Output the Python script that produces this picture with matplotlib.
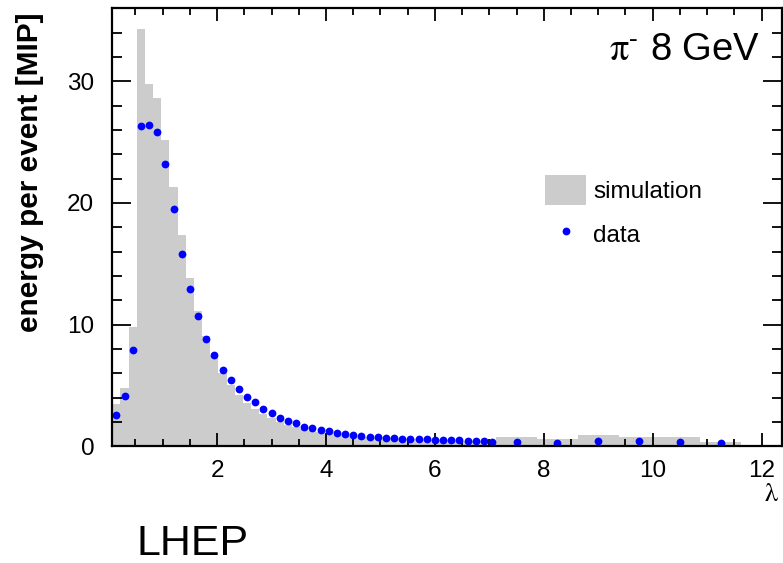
"""
Longitudinal shower profile: energy per event vs depth in lambda
"""

import matplotlib

matplotlib.use("Agg")
import matplotlib.pyplot as plt
from matplotlib.ticker import MultipleLocator

plt.rcParams["font.family"] = ["Liberation Sans", "DejaVu Sans"]
plt.rcParams["mathtext.fontset"] = "stix"

# Bin edges in lambda: fine bins up to 7.125, then wide bins
bin_edges = [
    0.075, 0.225, 0.375, 0.525, 0.675, 0.825, 0.975, 1.125, 1.275, 1.425,
    1.575, 1.725, 1.875, 2.025, 2.175, 2.325, 2.475, 2.625, 2.775, 2.925,
    3.075, 3.225, 3.375, 3.525, 3.675, 3.825, 3.975, 4.125, 4.275, 4.425,
    4.575, 4.725, 4.875, 5.025, 5.175, 5.325, 5.475, 5.625, 5.775, 5.925,
    6.075, 6.225, 6.375, 6.525, 6.675, 6.825, 6.975, 7.125,
    7.875, 8.625, 9.375, 10.125, 10.875, 11.625, 12.375,
]

# Simulated energy per bin [MIP]
sim_energy = [
    3.5, 4.75, 9.8, 34.3, 29.8, 28.6, 25.2, 21.3, 17.4, 13.85,
    11.1, 9.1, 7.4, 6.0, 5.0, 4.2, 3.55, 3.05, 2.65, 2.3,
    2.0, 1.78, 1.58, 1.40, 1.26, 1.14, 1.04, 0.96, 0.90, 0.85,
    0.80, 0.76, 0.72, 0.68, 0.65, 0.62, 0.59, 0.56, 0.54, 0.52,
    0.50, 0.48, 0.46, 0.45, 0.44, 0.44, 0.45,
    0.74, 0.57, 0.93, 0.80, 0.80, 0.38, 0.10,
]

# Measured energy per bin [MIP]
data_energy = [
    2.59, 4.12, 7.89, 26.3, 26.4, 25.8, 23.2, 19.5, 15.8, 12.9,
    10.7, 8.85, 7.48, 6.25, 5.43, 4.70, 4.07, 3.60, 3.06, 2.70,
    2.30, 2.07, 1.91, 1.61, 1.47, 1.36, 1.23, 1.09, 1.01, 0.90,
    0.84, 0.78, 0.75, 0.68, 0.66, 0.63, 0.60, 0.57, 0.56, 0.54,
    0.52, 0.51, 0.49, 0.46, 0.43, 0.40, 0.38,
    0.38, 0.30, 0.43, 0.46, 0.38, 0.25,
]

bin_centers = [(lo + hi) / 2 for lo, hi in zip(bin_edges[:-1], bin_edges[1:])]

fig = plt.figure(figsize=(7.83, 5.63), dpi=100)
ax = fig.add_axes([0.1434, 0.2073, 0.8553, 0.778])

sim = ax.stairs(sim_energy, bin_edges, fill=True, color="#cccccc", linewidth=0,
                label="simulation")
dat, = ax.plot(bin_centers[: len(data_energy)], data_energy, "o", color="#0000ff",
               markersize=5.6, markeredgewidth=0, label="data")

ax.set_xlim(0.075, 12.375)
ax.set_ylim(0, 36)
ax.xaxis.set_major_locator(MultipleLocator(2))
ax.xaxis.set_minor_locator(MultipleLocator(0.5))
ax.yaxis.set_major_locator(MultipleLocator(10))
ax.yaxis.set_minor_locator(MultipleLocator(2))

for side in ax.spines.values():
    side.set_linewidth(1.6)
ax.tick_params(which="both", direction="in", top=True, right=True, width=1.3,
               labelsize=17.5)
ax.tick_params(axis="x", which="major", length=9.5, pad=10)
ax.tick_params(axis="x", which="minor", length=4.7)
ax.tick_params(axis="y", which="major", length=14, pad=13)
ax.tick_params(axis="y", which="minor", length=7)

fig.text(30 / 783, 1 - 172 / 563, "energy per event [MIP]", rotation=90,
         ha="center", va="center", fontsize=21.5, fontweight="bold")
fig.text(771 / 783, 1 - 494 / 563, r"$\mathrm{\lambda}$", ha="center",
         va="center", fontsize=19)
ax.text(0.967, 0.905, "$\\mathrm{\\pi}^{\u2010}$ 8 GeV", transform=ax.transAxes,
        ha="right", va="center", fontsize=27.5)
fig.text(137 / 783, 1 - 555 / 563, "LHEP", ha="left", va="baseline",
         fontsize=31)

ax.legend(handles=[sim, dat], loc="upper left",
          bbox_to_anchor=(545 / 783, 1 - 175 / 563),
          bbox_transform=fig.transFigure, frameon=False, fontsize=17.5,
          borderpad=0, borderaxespad=0, handlelength=1.69, handleheight=1.5,
          handletextpad=0.3, labelspacing=0.6)

fig.savefig("out.png", dpi=100)
